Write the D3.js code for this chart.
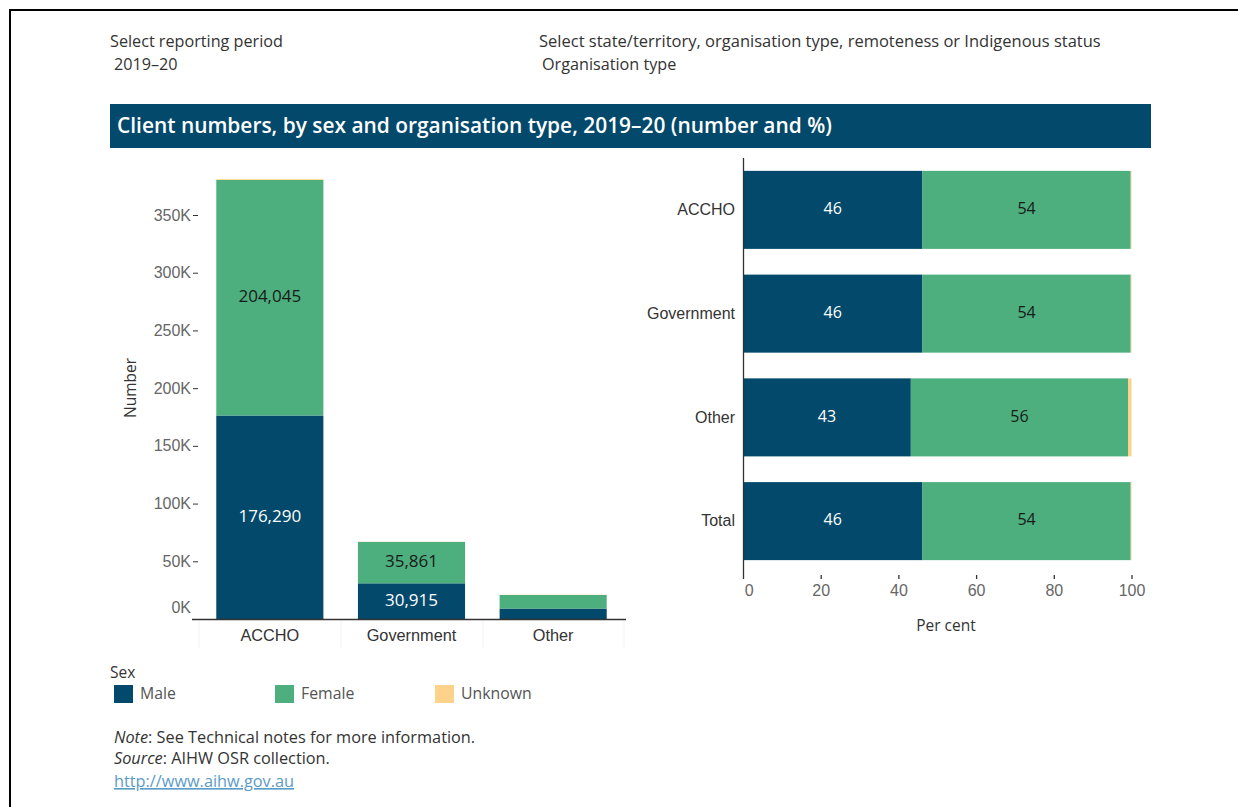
<!DOCTYPE html>
<html>
<head>
<meta charset="utf-8">
<script src="https://cdn.jsdelivr.net/npm/d3@7"></script>
<style>
  html, body { margin: 0; padding: 0; background: #fff; }
  svg { display: block; font-family: "Open Sans", "Noto Sans", sans-serif; }
</style>
</head>
<body>
<svg id="chart" width="1238" height="807"></svg>
<script>
// ---- Data ----
const orgTypes = ["ACCHO", "Government", "Other"];
const sexes = ["Male", "Female", "Unknown"];
const maleCounts = [176290, 30915, 9070];
const femaleCounts = [204045, 35861, 11740];
const unknownCounts = [760, 140, 190];

const pctCategories = ["ACCHO", "Government", "Other", "Total"];
const malePct = [46.2, 46.2, 43.2, 46.2];
const femalePct = [53.6, 53.6, 55.9, 53.6];
const unknownPct = [0.2, 0.2, 0.9, 0.2];

const yTickValues = [0, 50000, 100000, 150000, 200000, 250000, 300000, 350000];
const xTickValues = [0, 20, 40, 60, 80, 100];

const colours = { Male: "#02496b", Female: "#4caf7d", Unknown: "#fdd38b" };

const svg = d3.select("#chart");

// Frame lines (top and left)
svg.append("line").attr("x1", 9).attr("x2", 1238).attr("y1", 10).attr("y2", 10)
  .attr("stroke", "#000").attr("stroke-width", 2);
svg.append("line").attr("x1", 10).attr("x2", 10).attr("y1", 9).attr("y2", 807)
  .attr("stroke", "#000").attr("stroke-width", 2);

// ---- Header selectors ----
const hdr = svg.append("g").attr("fill", "#333").style("font-size", "16.2px");
hdr.append("text").attr("x", 110).attr("y", 47).text("Select reporting period");
hdr.append("text").attr("x", 114).attr("y", 70).text("2019–20");
hdr.append("text").attr("x", 539).attr("y", 47).style("font-size", "16.5px")
  .text("Select state/territory, organisation type, remoteness or Indigenous status");
hdr.append("text").attr("x", 542).attr("y", 70).text("Organisation type");

// ---- Title bar ----
svg.append("rect").attr("x", 110).attr("y", 104).attr("width", 1041).attr("height", 44)
  .attr("fill", "#02496b");
svg.append("text").attr("x", 117).attr("y", 127).attr("dominant-baseline", "middle")
  .attr("fill", "#fff").style("font-size", "20.9px").style("font-weight", "600")
  .text("Client numbers, by sex and organisation type, 2019–20 (number and %)");

// ---- Left chart: stacked counts ----
const countRows = orgTypes.map((o, i) => ({
  org: o, Male: maleCounts[i], Female: femaleCounts[i], Unknown: unknownCounts[i]
}));
const countSeries = d3.stack().keys(sexes)(countRows);

const xBand = d3.scaleBand().domain(orgTypes).range([199, 624])
  .paddingInner(0.244).paddingOuter(0.122);
const yLin = d3.scaleLinear().domain([0, 350000]).range([619, 215]);

const left = svg.append("g");
left.selectAll("g.series").data(countSeries).join("g")
  .attr("fill", d => colours[d.key])
  .selectAll("rect").data(d => d).join("rect")
  .attr("x", d => xBand(d.data.org))
  .attr("width", xBand.bandwidth())
  .attr("y", d => yLin(d[1]))
  .attr("height", d => yLin(d[0]) - yLin(d[1]));

// Value labels on the two larger bars
const fmtCount = d3.format(",");
countSeries.filter(s => s.key !== "Unknown").forEach(s => {
  s.forEach(d => {
    const h = yLin(d[0]) - yLin(d[1]);
    if (h < 25) return;
    left.append("text")
      .attr("x", xBand(d.data.org) + xBand.bandwidth() / 2)
      .attr("y", (yLin(d[0]) + yLin(d[1])) / 2)
      .attr("text-anchor", "middle").attr("dominant-baseline", "middle")
      .attr("fill", s.key === "Male" ? "#fff" : "#1a1a1a")
      .style("font-size", "17px")
      .text(fmtCount(d.data[s.key]));
  });
});

// Y axis
const yAxis = d3.axisLeft(yLin).tickValues(yTickValues)
  .tickFormat(d => d / 1000 + "K").tickSize(5).tickPadding(2);
const yg = left.append("g").attr("transform", "translate(198,0)").call(yAxis);
yg.select(".domain").remove();
yg.selectAll(".tick line").attr("stroke", "#333");
yg.selectAll(".tick text").attr("fill", "#666").style("font-size", "16px")
  .style("font-family", "inherit");
yg.selectAll(".tick").filter(d => d === 0).each(function () {
  d3.select(this).select("line").remove();
  d3.select(this).select("text").attr("dy", "-0.4em");
});

// Baseline and column dividers
left.append("line").attr("x1", 192).attr("x2", 626).attr("y1", 619.5).attr("y2", 619.5)
  .attr("stroke", "#333").attr("stroke-width", 1.3);
[199, 341, 483, 624].forEach(x => {
  left.append("line").attr("x1", x).attr("x2", x).attr("y1", 621).attr("y2", 648)
    .attr("stroke", "#f2f2f2").attr("stroke-width", 1);
});

// X category labels
const xAxis = d3.axisBottom(xBand).tickSize(0).tickPadding(0);
const xg = left.append("g").attr("transform", "translate(0,635)").call(xAxis);
xg.select(".domain").remove();
xg.selectAll(".tick text").attr("fill", "#333").style("font-size", "16.3px")
  .style("font-family", "inherit").attr("dy", "0.35em");

// Y title
left.append("text").attr("transform", "translate(136,388) rotate(-90)")
  .attr("text-anchor", "middle").attr("fill", "#333").style("font-size", "15.5px")
  .text("Number");

// ---- Right chart: per cent split ----
const pctRows = pctCategories.map((c, i) => ({
  cat: c, Male: malePct[i], Female: femalePct[i], Unknown: unknownPct[i]
}));
const pctSeries = d3.stack().keys(sexes)(pctRows);

const xPct = d3.scaleLinear().domain([0, 100]).range([743, 1131.5]);
const yBand = d3.scaleBand().domain(pctCategories).range([158, 573])
  .paddingInner(0.248).paddingOuter(0.124);

const right = svg.append("g");
right.selectAll("g.series").data(pctSeries).join("g")
  .attr("fill", d => colours[d.key])
  .selectAll("rect").data(d => d).join("rect")
  .attr("y", d => yBand(d.data.cat))
  .attr("height", yBand.bandwidth())
  .attr("x", d => xPct(d[0]))
  .attr("width", d => xPct(d[1]) - xPct(d[0]));

const fmtPct = d3.format(".0f");
pctSeries.filter(s => s.key !== "Unknown").forEach(s => {
  s.forEach(d => {
    right.append("text")
      .attr("x", (xPct(d[0]) + xPct(d[1])) / 2)
      .attr("y", yBand(d.data.cat) + yBand.bandwidth() / 2)
      .attr("text-anchor", "middle").attr("dominant-baseline", "middle")
      .attr("fill", s.key === "Male" ? "#fff" : "#1a1a1a")
      .style("font-size", "16px")
      .text(fmtPct(d.data[s.key]));
  });
});

// Category axis (vertical line + labels)
right.append("line").attr("x1", 743.5).attr("x2", 743.5).attr("y1", 158).attr("y2", 579)
  .attr("stroke", "#333").attr("stroke-width", 1.3);
const yCat = d3.axisLeft(yBand).tickSize(0).tickPadding(8);
const ycg = right.append("g").attr("transform", "translate(743,0)").call(yCat);
ycg.select(".domain").remove();
ycg.selectAll(".tick text").attr("fill", "#333").style("font-size", "16px")
  .style("font-family", "inherit");

// Per cent axis
const xPctAxis = d3.axisBottom(xPct).tickValues(xTickValues).tickSize(4).tickPadding(6);
const xpg = right.append("g").attr("transform", "translate(0,575)").call(xPctAxis);
xpg.select(".domain").remove();
xpg.selectAll(".tick line").attr("stroke", "#333").attr("stroke-width", 1.3);
xpg.selectAll(".tick").filter(d => d === 0).select("line").remove();
xpg.selectAll(".tick").filter(d => d === 0).select("text").attr("dx", "0.35em");
xpg.selectAll(".tick text").attr("fill", "#666").style("font-size", "16px")
  .style("font-family", "inherit");
right.append("text").attr("x", 946).attr("y", 631).attr("text-anchor", "middle")
  .attr("fill", "#333").style("font-size", "15.5px").text("Per cent");

// ---- Legend ----
const legend = svg.append("g");
legend.append("text").attr("x", 110).attr("y", 678).attr("fill", "#333")
  .style("font-size", "15.5px").text("Sex");
const legendX = [114, 275, 435];
sexes.forEach((s, i) => {
  const g = legend.append("g").attr("transform", `translate(${legendX[i]},685)`);
  g.append("rect").attr("width", 19).attr("height", 18).attr("fill", colours[s]);
  g.append("text").attr("x", 26).attr("y", 10).attr("dominant-baseline", "middle")
    .attr("fill", "#555").style("font-size", "15.8px").text(s);
});

// ---- Notes ----
const notes = svg.append("g").attr("fill", "#333").style("font-size", "16.3px");
const n1 = notes.append("text").attr("x", 114).attr("y", 743);
n1.append("tspan").style("font-style", "italic").text("Note");
n1.append("tspan").text(": See Technical notes for more information.");
const n2 = notes.append("text").attr("x", 114).attr("y", 764);
n2.append("tspan").style("font-style", "italic").text("Source");
n2.append("tspan").text(": AIHW OSR collection.");
notes.append("text").attr("x", 114).attr("y", 787).attr("fill", "#5b9bc8")
  .style("text-decoration", "underline").text("http://www.aihw.gov.au");
</script>
</body>
</html>
